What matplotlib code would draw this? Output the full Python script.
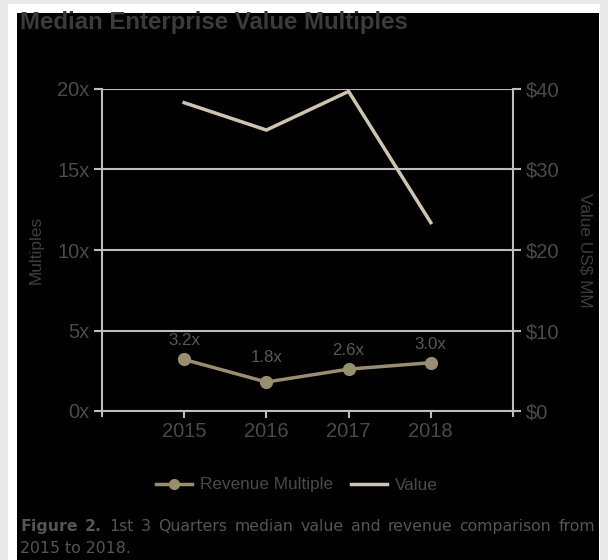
import matplotlib
matplotlib.use("Agg")
import matplotlib.pyplot as plt
from matplotlib.patches import Rectangle
from matplotlib.lines import Line2D

years = [2015, 2016, 2017, 2018]
year_labels = ["2015", "2016", "2017", "2018"]
revenue_multiple = [3.2, 1.8, 2.6, 3.0]
revenue_labels = ["3.2x", "1.8x", "2.6x", "3.0x"]
value_usd_mm = [38.3, 34.9, 39.7, 23.4]
left_ticks = [0, 5, 10, 15, 20]
left_tick_labels = ["0x", "5x", "10x", "15x", "20x"]
right_ticks = [0, 10, 20, 30, 40]
right_tick_labels = ["$0", "$10", "$20", "$30", "$40"]

W, H = 608, 560
fig = plt.figure(figsize=(W / 100, H / 100), dpi=100)
fig.patch.set_facecolor("#e9e9eb")

def px(x, y):
    return x / W, 1 - y / H

# panels
fig.patches.append(Rectangle((8 / W, 0), (600 - 8) / W, 1 - 4 / H, transform=fig.transFigure,
                             facecolor="white", edgecolor="none", zorder=-20))
fig.patches.append(Rectangle((17 / W, 0), (599 - 17) / W, 1 - 13 / H, transform=fig.transFigure,
                             facecolor="black", edgecolor="none", zorder=-10))

font = "Liberation Sans"
grid_c = "#bdbdbd"
tick_c = "#4a4a4a"
rev_c = "#9a8e70"
val_c = "#cdc4b2"

ax = fig.add_axes([102 / W, 1 - 411 / H, (513 - 102) / W, (411 - 89) / H])
ax.patch.set_alpha(0)
ax.set_xlim(2014, 2019)
ax.set_ylim(0, 20)
ax.set_yticks(left_ticks)
ax.set_yticklabels(left_tick_labels, fontfamily=font, fontsize=14.5, color=tick_c)
ax.set_xticks(years)
ax.set_xticklabels(year_labels, fontfamily=font, fontsize=14.5, color=tick_c)
ax.tick_params(axis="y", length=6, width=1.5, color=grid_c, pad=3)
ax.tick_params(axis="x", length=5, width=1.5, color=grid_c, pad=3)
for y in left_ticks:
    ax.axhline(y, color=grid_c, lw=1.5, zorder=1)
for s in ["left", "right", "bottom"]:
    ax.spines[s].set_color(grid_c)
    ax.spines[s].set_linewidth(1.5)
ax.spines["top"].set_visible(False)
ax.plot([2014, 2014], [0, -0.3], color=grid_c, lw=1.5, clip_on=False)
ax.plot([2019, 2019], [0, -0.3], color=grid_c, lw=1.5, clip_on=False)

ax.plot(years, revenue_multiple, color=rev_c, lw=2.5, marker="o", markersize=8.5, zorder=4)
label_offsets = [8, 12, 8, 8]
for x, y, t, off in zip(years, revenue_multiple, revenue_labels, label_offsets):
    ax.annotate(t, (x, y), xytext=(0, off), textcoords="offset points", ha="center", va="bottom",
                fontfamily=font, fontsize=12.2, color="#585858")
ax.set_ylabel("Multiples", fontfamily=font, fontsize=12.4, color="#3d3d3d", labelpad=10)

ax2 = ax.twinx()
ax2.set_ylim(0, 40)
ax2.set_yticks(right_ticks)
ax2.set_yticklabels(right_tick_labels, fontfamily=font, fontsize=14.5, color=tick_c)
ax2.tick_params(axis="y", length=6, width=1.5, color=grid_c, pad=3)
for s in ["left", "right", "bottom", "top"]:
    ax2.spines[s].set_visible(False)
ax2.plot(years, value_usd_mm, color=val_c, lw=2.5, zorder=3)
ax2.set_ylabel("Value US$ MM", fontfamily=font, fontsize=12.4, color="#3d3d3d", rotation=270,
               labelpad=24)

# title
fig.text(20 / W, 1 - 23 / H, "Median Enterprise Value Multiples", fontfamily=font, fontsize=17.3,
         fontweight="bold", color="#3b3b3b", ha="left", va="center")

# legend
handles = [Line2D([], [], color=rev_c, lw=2.5, marker="o", markersize=7),
           Line2D([], [], color=val_c, lw=2.5)]
leg = fig.legend(handles, ["Revenue Multiple", "Value"], loc="center",
                 bbox_to_anchor=px(297, 485), ncol=2, frameon=False,
                 prop={"family": font, "size": 12.3}, handlelength=2.1, columnspacing=1.0,
                 handletextpad=0.5)
for t in leg.get_texts():
    t.set_color("#4a4a4a")

# caption, justified first line
cap_font = "DejaVu Sans"
cap_size = 11.3
cap_c = "#555555"
renderer = fig.canvas.get_renderer()
words1 = [("Figure", True), ("2.", True), ("1st", False), ("3", False), ("Quarters", False),
          ("median", False), ("value", False), ("and", False), ("revenue", False),
          ("comparison", False), ("from", False)]
x0, x1 = 20, 595
y1 = 1 - 531 / H
texts = []
for w, b in words1:
    t = fig.text(0, y1, w, fontfamily=cap_font, fontsize=cap_size,
                 fontweight="bold" if b else "normal", color=cap_c, ha="left", va="baseline")
    texts.append(t)
widths = [t.get_window_extent(renderer).width for t in texts]
gap = (x1 - x0 - sum(widths)) / (len(texts) - 1)
x = x0
for t, wd in zip(texts, widths):
    t.set_x(x / W)
    x += wd + gap
fig.text(x0 / W, 1 - 553 / H, "2015 to 2018.", fontfamily=cap_font, fontsize=cap_size,
         color=cap_c, ha="left", va="baseline")

fig.savefig("out.png", dpi=100, facecolor=fig.get_facecolor())
